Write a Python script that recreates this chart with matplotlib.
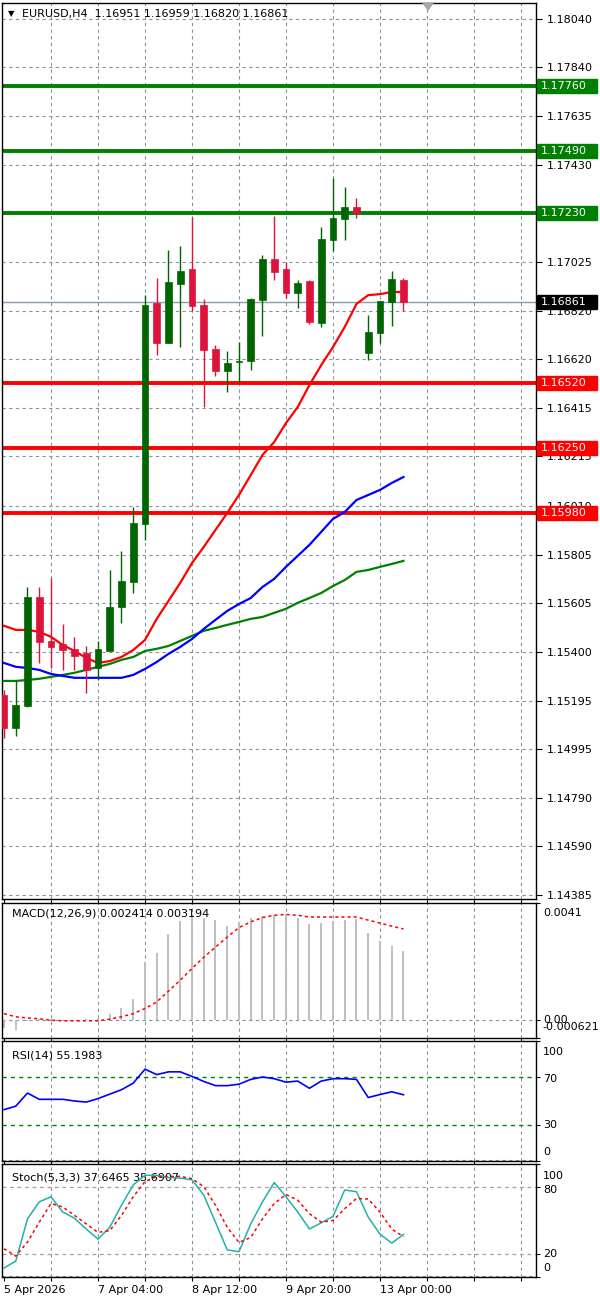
import numpy as np
import matplotlib
matplotlib.use("Agg")
import matplotlib.pyplot as plt
from matplotlib.patches import Rectangle, Polygon
import matplotlib.transforms as mtrans

# ---------------- data ----------------
title_text = "EURUSD,H4  1.16951 1.16959 1.16820 1.16861"

opens = [1.15220, 1.15082, 1.15174, 1.15628, 1.15445, 1.15432, 1.15411, 1.15395, 1.15332, 1.15403,
         1.15587, 1.15691, 1.15933, 1.16855, 1.16688, 1.16934, 1.16997, 1.16847, 1.16663, 1.16571,
         1.16609, 1.16613, 1.16868, 1.17039, 1.16997, 1.16897, 1.16947, 1.16772, 1.17118, 1.17206,
         1.17256, 1.16646, 1.16730, 1.16859, 1.16951]
highs = [1.15240, 1.15278, 1.15670, 1.15670, 1.15708, 1.15516, 1.15461, 1.15424, 1.15445, 1.15741,
         1.15820, 1.16004, 1.16888, 1.16959, 1.17076, 1.17093, 1.17215, 1.16872, 1.16680, 1.16655,
         1.16692, 1.16876, 1.17055, 1.17218, 1.17026, 1.16951, 1.16951, 1.17172, 1.17377, 1.17339,
         1.17293, 1.16805, 1.16863, 1.16989, 1.16959]
lows = [1.15040, 1.15048, 1.15170, 1.15353, 1.15332, 1.15324, 1.15324, 1.15228, 1.15282, 1.15403,
        1.15520, 1.15645, 1.15866, 1.16638, 1.16688, 1.16672, 1.16822, 1.16421, 1.16550, 1.16484,
        1.16525, 1.16575, 1.16717, 1.16951, 1.16876, 1.16834, 1.16767, 1.16755, 1.17072, 1.17118,
        1.17210, 1.16617, 1.16688, 1.16759, 1.16820]
closes = [1.15082, 1.15178, 1.15628, 1.15441, 1.15420, 1.15407, 1.15382, 1.15324, 1.15411, 1.15587,
          1.15695, 1.15937, 1.16847, 1.16688, 1.16943, 1.16989, 1.16843, 1.16659, 1.16571, 1.16605,
          1.16613, 1.16872, 1.17039, 1.16984, 1.16897, 1.16938, 1.16776, 1.17122, 1.17210, 1.17256,
          1.17231, 1.16734, 1.16863, 1.16955, 1.16861]

ma_red = [1.15508, 1.15491, 1.15491, 1.15483, 1.15462, 1.15428, 1.15403, 1.15374, 1.15353, 1.15361,
          1.15378, 1.15407, 1.15449, 1.15537, 1.15612, 1.15687, 1.15770, 1.15837, 1.15908, 1.15979,
          1.16054, 1.16137, 1.16221, 1.16275, 1.16354, 1.16421, 1.16513, 1.16596, 1.16671, 1.16755,
          1.16851, 1.16888, 1.16892, 1.16901, 1.16901]
ma_blue = [1.15353, 1.15337, 1.15332, 1.15324, 1.15307, 1.15299, 1.15291, 1.15291, 1.15291, 1.15291,
           1.15291, 1.15303, 1.15328, 1.15357, 1.15391, 1.15420, 1.15453, 1.15495, 1.15533, 1.15570,
           1.15599, 1.15624, 1.15670, 1.15704, 1.15754, 1.15800, 1.15846, 1.15900, 1.15954, 1.15983,
           1.16033, 1.16054, 1.16075, 1.16104, 1.16129]
ma_green = [1.15278, 1.15278, 1.15282, 1.15287, 1.15295, 1.15303, 1.15312, 1.15324, 1.15337, 1.15349,
            1.15366, 1.15378, 1.15403, 1.15412, 1.15424, 1.15445, 1.15466, 1.15487, 1.15499, 1.15512,
            1.15524, 1.15537, 1.15545, 1.15562, 1.15579, 1.15604, 1.15624, 1.15645, 1.15674, 1.15699,
            1.15733, 1.15741, 1.15754, 1.15766, 1.15779]

resistance_levels = [1.17760, 1.17490, 1.17230]
support_levels = [1.16520, 1.16250, 1.15980]
last_price = 1.16861

price_ticks = [1.18040, 1.17840, 1.17635, 1.17430, 1.17230, 1.17025, 1.16820, 1.16620, 1.16415,
               1.16215, 1.16010, 1.15805, 1.15605, 1.15400, 1.15195, 1.14995, 1.14790, 1.14590, 1.14385]
hidden_price_ticks = [1.17230]   # label fully covered by the level box in the reference

macd_hist = [-0.00028, -0.00035, -0.00003, 0.00003, 0.00003, 0.00002, 0.00002, 0.00003, 0.00007, 0.00021,
             0.00042, 0.00073, 0.00204, 0.00234, 0.00301, 0.00347, 0.00361, 0.00357, 0.00350, 0.00330,
             0.00344, 0.00356, 0.00364, 0.00367, 0.00371, 0.00356, 0.00336, 0.00340, 0.00347, 0.00350,
             0.00353, 0.00305, 0.00277, 0.00259, 0.002414]
macd_signal = [0.00023, 0.00012, 0.00008, 0.00005, 0.0, -0.00002, -0.00002, -0.00002, -0.00002, 0.00004,
               0.00012, 0.00023, 0.00041, 0.00064, 0.00102, 0.00140, 0.00181, 0.00220, 0.00256, 0.00291,
               0.00324, 0.00344, 0.00359, 0.00367, 0.00370, 0.00367, 0.00361, 0.00361, 0.00361, 0.00361,
               0.00361, 0.00350, 0.00340, 0.00329, 0.003194]
macd_label = "MACD(12,26,9) 0.002414 0.003194"
macd_ticks = [-0.000621, 0.0, 0.0041]
macd_ticklabels = ["-0.000621", "0.00", "0.0041"]

rsi = [42.8, 45.7, 56.6, 51.4, 51.4, 51.4, 50.0, 49.1, 52.0, 55.7, 59.4, 64.9, 76.5, 72.0, 74.3, 74.3,
       70.5, 66.3, 62.8, 62.8, 64.0, 68.0, 70.0, 68.6, 65.7, 66.6, 60.6, 66.6, 68.6, 68.6, 68.0, 52.9,
       55.4, 57.7, 55.2]
rsi_label = "RSI(14) 55.1983"
rsi_ticks = [0, 30, 70, 100]

stoch_k = [8, 14, 51.5, 66.5, 71, 57.5, 52, 42.5, 33.5, 44, 63.5, 81.5, 90, 90, 88, 87.5, 86, 72.5,
           48.5, 24, 22.4, 47, 66.5, 83.6, 71, 57.5, 42.5, 48, 53.6, 77, 75.5, 53, 38, 30, 37.6465]
stoch_d = [25, 18.5, 31, 48.5, 65, 62, 54.5, 47, 39.5, 41, 54.5, 71, 84.5, 89, 89, 89, 87, 80, 63.5,
           44, 30.5, 35, 51.5, 65, 73, 68, 56, 48.5, 50, 60.5, 69.5, 69, 57.5, 42.5, 35.6907]
stoch_label = "Stoch(5,3,3) 37.6465 35.6907"
stoch_ticks = [0, 20, 80, 100]

date_ticklabels = {0: "5 Apr 2026", 8: "7 Apr 04:00", 16: "8 Apr 12:00", 24: "9 Apr 20:00", 32: "13 Apr 00:00"}

# ---------------- style ----------------
W, H = 600, 1300
BULL = "#006400"
BEAR = "#DC143C"
GRID = "#8593A1"
GRID_LS = (0, (3, 3))
FS = 8
plt.rcParams["font.family"] = ["DejaVu Sans"]

fig = plt.figure(figsize=(W / 100, H / 100), dpi=100)
fig.patch.set_facecolor("white")


def rect(x0, y0, x1, y1):
    return [x0 / W, 1 - y1 / H, (x1 - x0) / W, (y1 - y0) / H]


def shift_labels(a, offsets_px):
    for lab, dy in zip(a.get_yticklabels(), offsets_px):
        lab.set_va("center")
        lab.set_transform(lab.get_transform() + mtrans.ScaledTranslation(0, dy / 100, fig.dpi_scale_trans))


ax = fig.add_axes(rect(2, 3, 536, 899))
ax_macd = fig.add_axes(rect(2, 903, 536, 1038))
ax_rsi = fig.add_axes(rect(2, 1041, 536, 1161))
ax_sto = fig.add_axes(rect(2, 1164, 536, 1277))

XMIN, XMAX = -0.17, 45.28
n = len(opens)
idx = np.arange(n)
tick_x = list(range(0, 45, 4))
grid_x = list(range(4, 45, 4))

for a in (ax, ax_macd, ax_rsi, ax_sto):
    a.set_xlim(XMIN, XMAX)
    a.set_facecolor("white")
    for s in a.spines.values():
        s.set_color("black")
        s.set_linewidth(1.0)
    a.set_xticks(tick_x)
    a.tick_params(axis="x", length=3, width=0.8, color="black", labelbottom=False)
    a.tick_params(axis="y", right=True, left=False, labelright=True, labelleft=False,
                  length=3, width=0.8, labelsize=FS, pad=2, colors="black")
    for gx in grid_x:
        a.axvline(gx, color=GRID, ls=GRID_LS, lw=0.8, zorder=0.5)

# ---------------- main price panel ----------------
ax.set_ylim(1.14368, 1.18107)
ax.set_yticks(price_ticks)
ax.set_yticklabels(["" if p in hidden_price_ticks else f"{p:.5f}" for p in price_ticks])
ax.tick_params(axis="y", length=4, pad=4)
for p in price_ticks:
    ax.axhline(p, color=GRID, ls=GRID_LS, lw=0.8, zorder=0.5)

ax.axhline(last_price, color="#8E9BAA", lw=1.0, zorder=1)

for lv in resistance_levels:
    ax.axhline(lv, color="#008000", lw=2.8, zorder=2)
for lv in support_levels:
    ax.axhline(lv, color="#FF0000", lw=2.8, zorder=2)

ax.plot(idx, ma_green, color="#008000", lw=1.6, zorder=3)
ax.plot(idx, ma_blue, color="#0000FF", lw=1.6, zorder=3)
ax.plot(idx, ma_red, color="#FF0000", lw=1.6, zorder=3)

o = np.array(opens); c = np.array(closes); h = np.array(highs); l = np.array(lows)
colors = [BULL if cc >= oo else BEAR for oo, cc in zip(o, c)]
ax.vlines(idx, l, h, colors=colors, lw=1.0, zorder=4)
body_bottom = np.minimum(o, c)
body_h = np.maximum(np.abs(c - o), 0.00004)
ax.bar(idx, body_h, bottom=body_bottom, width=0.58, color=colors, edgecolor=colors, lw=0.5, zorder=5)

# price label boxes on the right
blend = mtrans.blended_transform_factory(fig.transFigure, ax.transData)
box_h = 14 / 896 * (1.18107 - 1.14368)
for lv, col in [(v, "#008000") for v in resistance_levels] + [(v, "#FF0000") for v in support_levels] + [(last_price, "#000000")]:
    ax.add_patch(Rectangle((537 / W, lv - box_h / 2), 60 / W, box_h, transform=blend,
                           facecolor=col, edgecolor=col, clip_on=False, zorder=10))
    ax.text(541 / W, lv, f"{lv:.5f}", transform=blend, color="white", fontsize=FS,
            va="center", ha="left", clip_on=False, zorder=11)

# title
fig.text(8 / W, 1 - 14 / H, "\u25BC", fontsize=6, va="center", ha="left", color="black")
fig.text(22 / W, 1 - 14 / H, title_text, fontsize=FS, va="center", ha="left", color="black")
# shift marker
fig.patches.append(Polygon([[423 / W, 1 - 3 / H], [433 / W, 1 - 3 / H], [428 / W, 1 - 10 / H]],
                           closed=True, transform=fig.transFigure, facecolor="#A8A8A8",
                           edgecolor="#A8A8A8", zorder=20))

# ---------------- MACD ----------------
ax_macd.set_ylim(-0.000621, 0.0041)
ax_macd.axhline(0, color=GRID, ls=GRID_LS, lw=0.8, zorder=0.5)
ax_macd.bar(idx, macd_hist, width=0.17, color="#C0C0C0", zorder=2)
ax_macd.plot(idx, macd_signal, color="#FF0000", lw=1.1, ls=(0, (2, 2)), zorder=3)
ax_macd.set_yticks(macd_ticks)
ax_macd.set_yticklabels(macd_ticklabels)
shift_labels(ax_macd, [11, 0, -10])
ax_macd.text(10 / 534, 1 - 10 / 135, macd_label, transform=ax_macd.transAxes, fontsize=FS,
             va="center", ha="left", color="black", zorder=1)

# ---------------- RSI ----------------
ax_rsi.set_ylim(0, 100)
ax_rsi.axhline(0.5, color=GRID, ls=GRID_LS, lw=0.8, zorder=0.5)
for lv in (30, 70):
    ax_rsi.axhline(lv, color="#008000", ls=GRID_LS, lw=1.0, zorder=1)
ax_rsi.plot(idx, rsi, color="#0000FF", lw=1.2, zorder=3)
ax_rsi.set_yticks(rsi_ticks)
ax_rsi.set_yticklabels([str(t) for t in rsi_ticks])
shift_labels(ax_rsi, [9, 0, -2, -11])
ax_rsi.text(10 / 534, 1 - 14 / 120, rsi_label, transform=ax_rsi.transAxes, fontsize=FS,
            va="center", ha="left", color="black", zorder=1)

# ---------------- Stochastic ----------------
ax_sto.set_ylim(0, 100)
ax_sto.axhline(0.8, color=GRID, ls=GRID_LS, lw=0.8, zorder=0.5)
for lv in (20, 80):
    ax_sto.axhline(lv, color="#A0A0A0", ls=GRID_LS, lw=0.9, zorder=1)
ax_sto.text(10 / 534, 1 - 14 / 113, stoch_label, transform=ax_sto.transAxes, fontsize=FS,
            va="center", ha="left", color="black", zorder=1)
ax_sto.plot(idx, stoch_k, color="#20B2AA", lw=1.1, zorder=3)
ax_sto.plot(idx, stoch_d, color="#FF0000", lw=1.1, ls=(0, (2, 2)), zorder=3)
ax_sto.set_yticks(stoch_ticks)
ax_sto.set_yticklabels([str(t) for t in stoch_ticks])
shift_labels(ax_sto, [9, 0, -3, -12])

ax_sto.tick_params(axis="x", labelbottom=True, labelsize=FS, pad=3)
ax_sto.set_xticklabels([date_ticklabels.get(t, "") for t in tick_x])
for lab in ax_sto.get_xticklabels():
    lab.set_ha("left")

fig.savefig("out.png", dpi=100, facecolor="white")
